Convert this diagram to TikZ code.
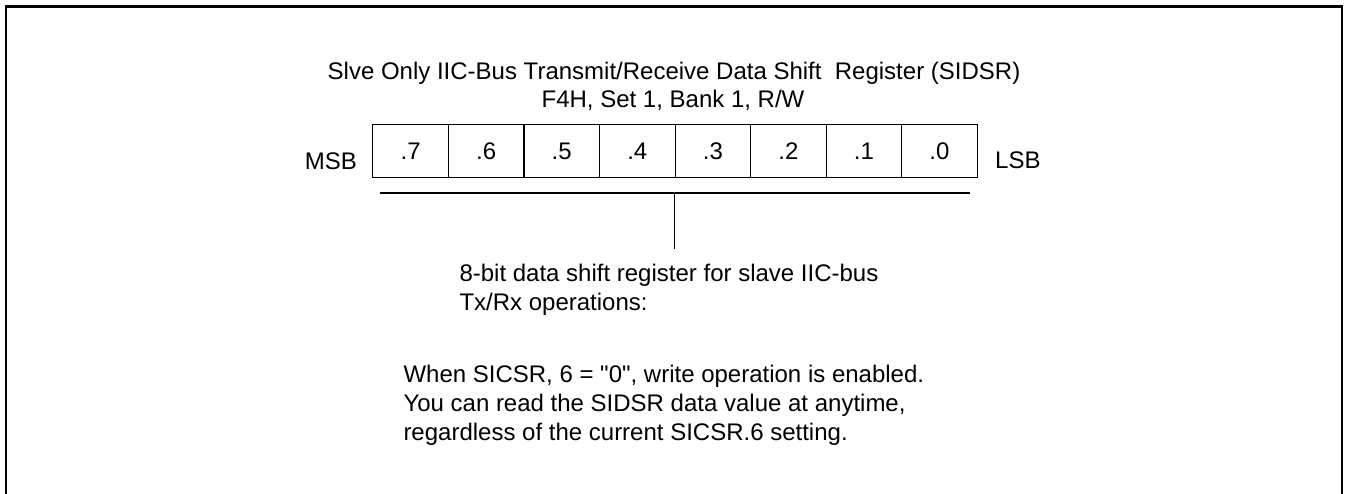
\documentclass[tikz,border=0pt]{standalone}
\usepackage{fontspec}
\setmainfont{Liberation Sans}[Ligatures=TeXOff]
\begin{document}
\begin{tikzpicture}[x=1pt,y=-1pt,
  lbl/.style={inner sep=0pt,font=\fontsize{24}{28}\selectfont},
  cell/.style={draw,line width=1.1pt,minimum width=75.55pt,minimum height=52.7pt,inner sep=0pt,anchor=north west,font=\fontsize{24}{28}\selectfont},
  frame/.style={line width=2.3pt},
  conn/.style={line width=1.1pt}]
\useasboundingbox (0,0) rectangle (1348,493);
\draw[frame] (6,520) -- (6,6.5) -- (1342,6.5) -- (1342,520);
\node[lbl,anchor=base] (t1) at (674,79) {Slve Only IIC-Bus Transmit/Receive Data Shift\ \ Register (SIDSR)};
\node[lbl,anchor=base] (t2) at (673,107) {F4H, Set 1, Bank 1, R/W};
\foreach \i/\t in {0/.7,1/.6,2/.5,3/.4,4/.3,5/.2,6/.1,7/.0}{
  \node[cell] (c\i) at ({372.3+\i*75.55},124) {\t};
}
\node[lbl,anchor=base east] (msb) at (357,169) {MSB};
\node[lbl,anchor=base west] (lsb) at (995,168.5) {LSB};
\coordinate (hl) at (379.5,193);
\coordinate (hr) at (970,193);
\coordinate (hm) at (674.3,193);
\coordinate (vb) at (674.3,249.3);
\draw[conn] (hl) -- (hr);
\draw[conn] (hm) -- (vb);
\node[lbl,anchor=base west] (d1) at (459.3,281.7) {8-bit data shift register for slave IIC-bus};
\node[lbl,anchor=base west] (d2) at (459.3,310.5) {Tx/Rx operations:};
\node[lbl,anchor=base west] (n1) at (403.3,382.7) {When SICSR, 6 = "0", write operation is enabled.};
\node[lbl,anchor=base west] (n2) at (403.3,411.5) {You can read the SIDSR data value at anytime,};
\node[lbl,anchor=base west] (n3) at (403.3,440) {regardless of the current SICSR.6 setting.};
\end{tikzpicture}
\end{document}
